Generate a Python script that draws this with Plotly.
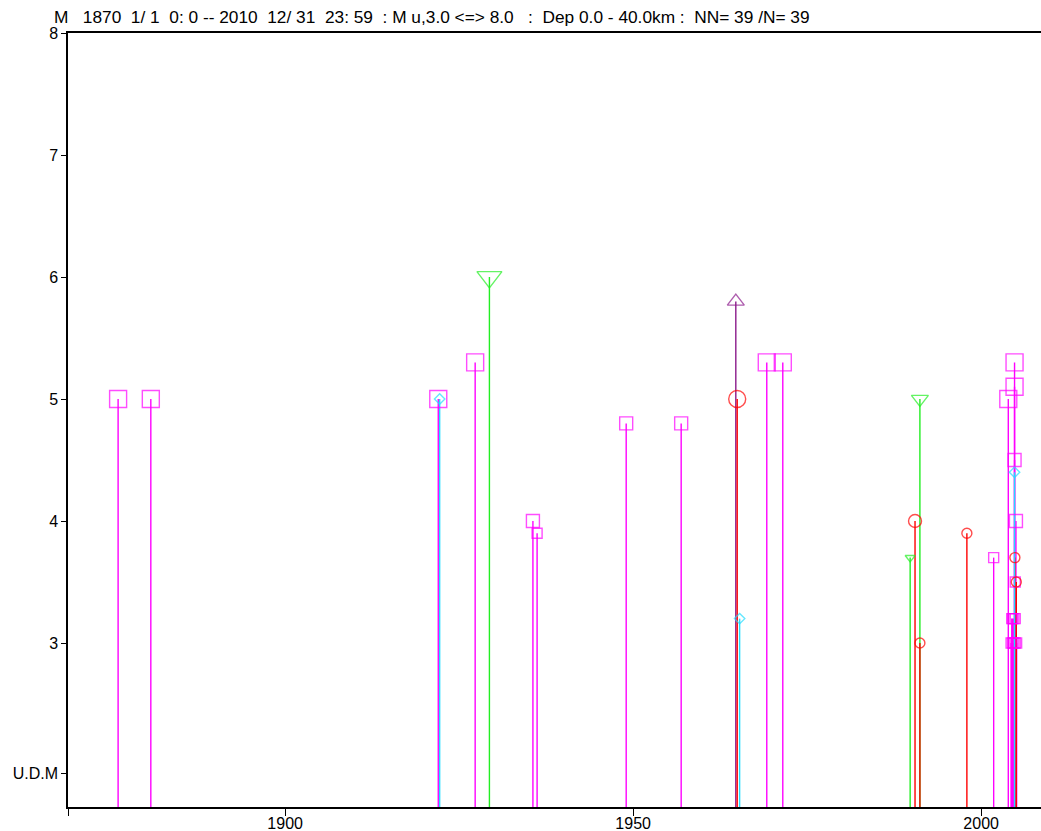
import plotly.graph_objects as go

# ---------------- data ----------------
title_text = ("M   1870  1/ 1  0: 0 -- 2010  12/ 31  23: 59  : M u,3.0 <=> 8.0   :  "
              "Dep 0.0 - 40.0km :  NN= 39 /N= 39")

sq_year = [1876.0, 1880.7, 1922.0, 1927.3, 1935.6, 1936.2, 1949.0, 1956.9,
           1969.2, 1971.5, 2001.8,
           2003.9, 2004.8, 2004.8, 2004.8, 2005.0, 2004.9,
           2004.5, 2004.7, 2004.9, 2004.5, 2004.7, 2004.9,
           2004.3, 2004.4, 2005.1]
sq_mag = [5.0, 5.0, 5.0, 5.3, 4.0, 3.9, 4.8, 4.8,
          5.3, 5.3, 3.7,
          5.0, 5.3, 5.1, 4.5, 4.0, 3.5,
          3.2, 3.2, 3.2, 3.0, 3.0, 3.0,
          3.0, 3.2, 3.0]

cy_year = [1922.2, 1965.3, 2004.8]
cy_mag = [5.0, 3.2, 4.4]

rd_year = [1964.95, 1990.5, 1991.2, 1997.95, 2004.85, 2005.05]
rd_mag = [5.0, 4.0, 3.0, 3.9, 3.7, 3.5]

gr_year = [1929.35, 1989.8, 1991.2]
gr_mag = [6.0, 3.7, 5.0]

pu_year = [1964.75]
pu_mag = [5.8]

y_tickvals = [1.93, 3, 4, 5, 6, 7, 8]
y_ticktext = ["U.D.M", "3", "4", "5", "6", "7", "8"]
x_tickvals = [1868.8, 1900, 1950, 2000]
x_ticktext = ["", "1900", "1950", "2000"]

X_RANGE = [1868.8, 2008.6]
Y_RANGE = [1.656, 8.0]
BASE = Y_RANGE[0]


def width_px(m):
    if m >= 6:
        return 25
    if m >= 5:
        return 17
    if m >= 4:
        return 13
    return 10


def stems(xs, ys):
    sx, sy = [], []
    for x, y in zip(xs, ys):
        sx += [x, x, None]
        sy += [BASE, y, None]
    return sx, sy


groups = [
    # name, years, mags, color, symbol, size-scale, fixed size
    ("sq", sq_year, sq_mag, "#FF00FF", "square-open", 1.0, None),
    ("gr", gr_year, gr_mag, "#22EE22", "triangle-down-open", 1 / 1.155, None),
    ("pu", pu_year, pu_mag, "#8B1A8B", "triangle-up-open", 1 / 1.155, None),
    ("rd", rd_year, rd_mag, "#FF0000", "circle-open", 1.0, None),
    ("cy", cy_year, cy_mag, "#22DDFF", "diamond-open", 1.0, 8),
]

fig = go.Figure()
for name, xs, ys, col, sym, sc, fixed in groups:
    sx, sy = stems(xs, ys)
    fig.add_trace(go.Scatter(x=sx, y=sy, mode="lines",
                             line=dict(color=col, width=1.4),
                             hoverinfo="skip", showlegend=False))
for name, xs, ys, col, sym, sc, fixed in groups:
    sizes = [fixed if fixed else width_px(m) * sc for m in ys]
    fig.add_trace(go.Scatter(x=xs, y=ys, mode="markers",
                             marker=dict(symbol=sym, size=sizes, color=col,
                                         line=dict(color=col, width=1.4)),
                             showlegend=False, name=name))

fig.update_layout(
    width=1041, height=831,
    margin=dict(l=68, r=0, t=33, b=24, autoexpand=False),
    paper_bgcolor="white", plot_bgcolor="white",
    font=dict(family="Liberation Sans, Arial, sans-serif", color="black"),
    showlegend=False,
)
fig.update_xaxes(range=X_RANGE, showgrid=False, zeroline=False,
                 showline=True, linecolor="black", linewidth=1.5, mirror=True,
                 ticks="outside", ticklen=7, tickcolor="black", tickwidth=1,
                 tickvals=x_tickvals, ticktext=x_ticktext,
                 ticklabelstandoff=-6,
                 tickfont=dict(size=16), automargin=False)
fig.update_yaxes(range=Y_RANGE, showgrid=False, zeroline=False,
                 showline=True, linecolor="black", linewidth=1.5,
                 ticks="outside", ticklen=5, tickcolor="black", tickwidth=1,
                 tickvals=y_tickvals, ticktext=y_ticktext,
                 tickfont=dict(size=16), automargin=False)

fig.add_annotation(text=title_text, xref="paper", yref="paper",
                   x=-16 / 973, y=1 + 16 / 774, xanchor="left", yanchor="middle",
                   showarrow=False, font=dict(size=17.3, color="black"))

fig.write_html("out.html",
               config={"displayModeBar": False},
               post_script="document.body.style.margin='0';"
                           "document.body.style.overflow='hidden';")
